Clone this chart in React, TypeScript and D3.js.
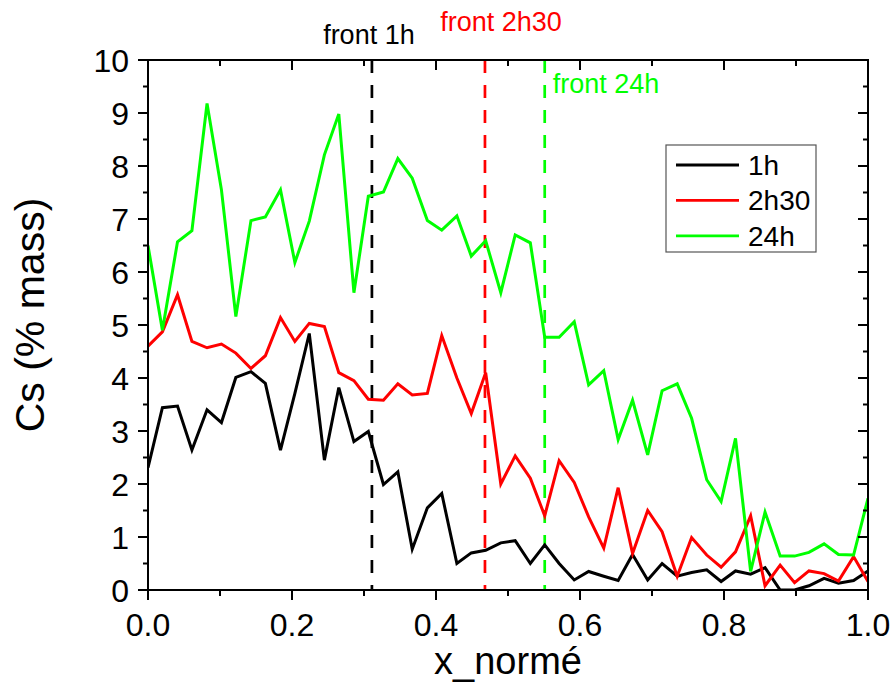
import React from "react";
import * as d3 from "d3";

const xNorm = [0, 0.020, 0.041, 0.061, 0.082, 0.102, 0.122, 0.143, 0.163, 0.184, 0.204, 0.224, 0.245, 0.265, 0.286, 0.306, 0.327, 0.347, 0.367, 0.388, 0.408, 0.429, 0.449, 0.469, 0.490, 0.510, 0.531, 0.551, 0.571, 0.592, 0.612, 0.633, 0.653, 0.673, 0.694, 0.714, 0.735, 0.755, 0.776, 0.796, 0.816, 0.837, 0.857, 0.878, 0.898, 0.918, 0.939, 0.959, 0.980, 1.000];

const cs1h = [2.31, 3.44, 3.47, 2.64, 3.40, 3.16, 4.01, 4.12, 3.90, 2.64, 3.71, 4.84, 2.45, 3.82, 2.80, 2.99, 1.99, 2.23, 0.77, 1.55, 1.82, 0.50, 0.70, 0.75, 0.89, 0.93, 0.50, 0.85, 0.50, 0.19, 0.35, 0.26, 0.18, 0.67, 0.19, 0.50, 0.26, 0.33, 0.38, 0.16, 0.36, 0.30, 0.42, 0.0, 0.0, 0.08, 0.22, 0.13, 0.18, 0.36];

const cs2h30 = [4.60, 4.87, 5.57, 4.69, 4.57, 4.64, 4.47, 4.18, 4.42, 5.14, 4.69, 5.03, 4.97, 4.10, 3.95, 3.60, 3.58, 3.89, 3.68, 3.71, 4.80, 4.00, 3.33, 4.10, 2.00, 2.53, 2.11, 1.40, 2.44, 2.03, 1.38, 0.79, 1.93, 0.69, 1.50, 1.10, 0.26, 0.99, 0.66, 0.43, 0.72, 1.40, 0.08, 0.47, 0.14, 0.36, 0.31, 0.17, 0.63, 0.16];

const cs24h = [6.5, 4.9, 6.57, 6.78, 9.18, 7.55, 5.16, 6.97, 7.04, 7.55, 6.18, 6.96, 8.21, 8.98, 5.61, 7.43, 7.51, 8.14, 7.77, 6.97, 6.79, 7.06, 6.30, 6.59, 5.61, 6.70, 6.55, 4.77, 4.77, 5.06, 3.87, 4.14, 2.84, 3.58, 2.55, 3.76, 3.89, 3.24, 2.08, 1.67, 2.86, 0.35, 1.47, 0.64, 0.64, 0.71, 0.87, 0.67, 0.66, 1.73];

const seriesNames = ["1h", "2h30", "24h"];
const seriesColors = ["#000000", "#ff0000", "#00ff00"];
const seriesValues = [cs1h, cs2h30, cs24h];

const frontNames = ["front 1h", "front 2h30", "front 24h"];
const frontX = [0.311, 0.468, 0.551];

const xTickLabels = ["0.0", "0.2", "0.4", "0.6", "0.8", "1.0"];
const yTickLabels = ["0", "1", "2", "3", "4", "5", "6", "7", "8", "9", "10"];

const FONT = "'Liberation Sans', Arial, sans-serif";

export default function App() {
  const L = 148, R = 868, T = 60, B = 590;
  const x = d3.scaleLinear().domain([0, 1]).range([L, R]);
  const y = d3.scaleLinear().domain([0, 10]).range([B, T]);

  const line = d3
    .line<number>()
    .x((_, i) => x(xNorm[i]))
    .y((d) => y(d));

  const xMinor = d3.range(0, 11).map((i) => i / 10);
  const yMinor = d3.range(0, 21).map((i) => i / 2);

  const frontLabelPos = [
    { x: x(frontX[0]) - 3, y: 44, anchor: "middle" },
    { x: x(frontX[1]) + 16, y: 31, anchor: "middle" },
    { x: x(frontX[2]) + 8, y: 93, anchor: "start" },
  ];

  return (
    <svg
      width={893}
      height={691}
      style={{ position: "absolute", left: 0, top: 0, background: "#fff" }}
      fontFamily={FONT}
    >
      <rect x={0} y={0} width={893} height={691} fill="#fff" />
      <defs>
        <clipPath id="plotclip">
          <rect x={L} y={T - 2} width={R - L} height={B - T + 3} />
        </clipPath>
      </defs>

      {frontX.map((fx, i) => (
        <line
          key={"f" + i}
          x1={x(fx)}
          x2={x(fx)}
          y1={y(10)}
          y2={y(0)}
          stroke={seriesColors[i]}
          strokeWidth={2.7}
          strokeDasharray="13,12"
        />
      ))}

      <g clipPath="url(#plotclip)">
        {seriesValues.map((vals, i) => (
          <path
            key={"s" + i}
            d={line(vals) || ""}
            fill="none"
            stroke={seriesColors[i]}
            strokeWidth={3}
            strokeLinejoin="miter"
          />
        ))}
      </g>

      <rect x={L} y={T} width={R - L} height={B - T} fill="none" stroke="#000" strokeWidth={2} />

      {xMinor.map((v, i) => {
        const major = i % 2 === 0;
        const len = major ? 10 : 6;
        return (
          <g key={"xt" + i}>
            <line x1={x(v)} x2={x(v)} y1={B} y2={B + len} stroke="#000" strokeWidth={2} />
            <line x1={x(v)} x2={x(v)} y1={T} y2={T + len} stroke="#000" strokeWidth={2} />
          </g>
        );
      })}
      {xTickLabels.map((t, i) => (
        <text key={"xl" + i} x={x(i * 0.2)} y={636} fontSize={32} textAnchor="middle" fill="#000">
          {t}
        </text>
      ))}

      {yMinor.map((v, i) => {
        const major = i % 2 === 0;
        const len = major ? 10 : 5;
        return (
          <g key={"yt" + i}>
            <line x1={L - len} x2={L} y1={y(v)} y2={y(v)} stroke="#000" strokeWidth={2} />
            <line x1={R - len} x2={R} y1={y(v)} y2={y(v)} stroke="#000" strokeWidth={2} />
          </g>
        );
      })}
      {yTickLabels.map((t, i) => (
        <text key={"yl" + i} x={129} y={y(i) + 11.5} fontSize={32} textAnchor="end" fill="#000">
          {t}
        </text>
      ))}

      <text x={(L + R) / 2} y={674} fontSize={38} textAnchor="middle" fill="#000">
        x_normé
      </text>
      <text
        transform={`translate(44, ${(T + B) / 2 - 10}) rotate(-90)`}
        fontSize={41}
        textAnchor="middle"
        fill="#000"
      >
        Cs (% mass)
      </text>

      {frontNames.map((n, i) => (
        <text
          key={"fl" + i}
          x={frontLabelPos[i].x}
          y={frontLabelPos[i].y}
          fontSize={27}
          textAnchor={frontLabelPos[i].anchor as any}
          fill={seriesColors[i]}
        >
          {n}
        </text>
      ))}

      <rect x={666} y={145} width={150} height={107} fill="#fff" stroke="#555" strokeWidth={1.2} />
      {seriesNames.map((n, i) => (
        <g key={"lg" + i}>
          <line x1={676} x2={739} y1={165 + i * 35.4} y2={165 + i * 35.4} stroke={seriesColors[i]} strokeWidth={2.8} />
          <text x={748} y={165 + i * 35.4 + 10} fontSize={28} fill="#000">
            {n}
          </text>
        </g>
      ))}
    </svg>
  );
}
